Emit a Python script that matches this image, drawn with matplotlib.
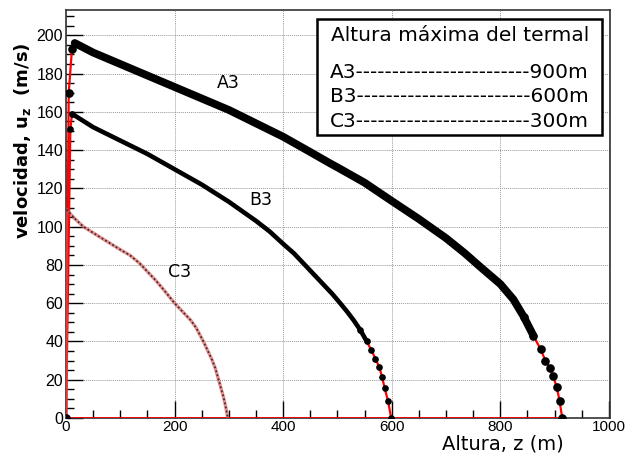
import matplotlib
matplotlib.use("Agg")
import matplotlib.pyplot as plt
from matplotlib.ticker import MultipleLocator
from matplotlib.patches import Rectangle

# thermal velocity profiles: altura z (m) vs u_z (m/s)
a3_z = [0, 5, 11, 16, 50, 100, 150, 200, 250, 300, 350, 400, 450, 487, 500, 550, 597,
        650, 700, 735, 763, 800, 824, 843, 861, 874, 883, 891, 897, 904, 909, 914]
a3_u = [0, 170, 193, 196, 191, 185, 179, 173, 167, 161, 154, 147, 139, 133, 131, 123, 114,
        104, 94, 86, 79, 70, 62, 53, 43, 36, 30, 26, 22, 16, 9, 0]

b3_z = [0, 8, 11, 50, 100, 150, 200, 250, 300, 350, 375, 400, 420, 450, 470, 490, 505,
        518, 530, 542, 554, 562, 570, 577, 582, 587, 593, 599]
b3_u = [0, 151, 159, 152, 145, 138, 130, 122, 113, 103, 97.5, 91, 86, 77, 71, 65, 60,
        55.5, 51, 46, 40, 35.6, 31, 26.5, 21.6, 15.5, 9, 0]

c3_z = [0, 1, 15, 32, 60, 80, 100, 118, 135, 150, 165, 180, 200, 215, 230, 240, 253,
        268, 275, 281, 285, 290, 294, 298]
c3_u = [0, 109, 104.5, 100, 95, 91.5, 88, 85, 81, 76.5, 72, 67, 60, 55.5, 51, 47, 40,
        31, 26, 20, 16, 11, 6, 0]

labels = ["A3", "B3", "C3"]
heights = ["900m", "600m", "300m"]

fig = plt.figure(figsize=(6.33, 4.54), dpi=100)
ax = fig.add_axes([0.1043, 0.0793, 0.8594, 0.8997])
ax.set_xlim(0, 1002)
ax.set_ylim(0, 213.5)

ax.grid(True, color="#9a9a9a", linestyle=(0, (1, 1)), linewidth=0.7)
ax.set_axisbelow(True)

# red connecting lines (graph lines)
ax.plot([0, a3_z[-1]], [0, 0], color="red", lw=2.0, zorder=3)
ax.plot(a3_z, a3_u, color="red", lw=1.6, zorder=3)
ax.plot(b3_z, b3_u, color="red", lw=1.6, zorder=3)
ax.plot(c3_z, c3_u, color="#e05050", lw=2.4, alpha=0.65, zorder=3)

# dense markers look like a thick black band, sparse ones near the ground
ax.plot(a3_z[3:25], a3_u[3:25], color="black", lw=5.6, solid_capstyle="round", zorder=4)
ax.plot(a3_z[:3], a3_u[:3], "o", color="black", ms=5.2, lw=0, zorder=4)
ax.plot(a3_z[23:], a3_u[23:], "o", color="black", ms=5.2, lw=0, zorder=4)
ax.plot(b3_z[2:21], b3_u[2:21], color="black", lw=3.3, solid_capstyle="round", zorder=4)
ax.plot(b3_z[1:3], b3_u[1:3], "o", color="black", ms=3.8, lw=0, zorder=4)
ax.plot(b3_z[19:], b3_u[19:], "o", color="black", ms=3.8, lw=0, zorder=4)
ax.plot(c3_z[1:], c3_u[1:], color="#333333", lw=1.3, linestyle=(0, (1, 1.3)), zorder=4)

ax.text(298, 175, labels[0], fontsize=12.5, ha="center", va="center", family="DejaVu Sans")
ax.text(358, 114, labels[1], fontsize=12.5, ha="center", va="center", family="DejaVu Sans")
ax.text(210, 76.5, labels[2], fontsize=12.5, ha="center", va="center", family="DejaVu Sans")

# ticks, ROOT style (inside)
ax.xaxis.set_major_locator(MultipleLocator(200))
ax.xaxis.set_minor_locator(MultipleLocator(50))
ax.yaxis.set_major_locator(MultipleLocator(20))
ax.yaxis.set_minor_locator(MultipleLocator(5))
ax.tick_params(which="major", direction="in", length=12, width=1.0, top=False, right=False,
               labelsize=11.5, pad=2)
ax.tick_params(which="minor", direction="in", length=6, width=1.0, top=False, right=False)
ax.tick_params(axis="x", labelsize=11, pad=1.5)
for lab in ax.get_xticklabels() + ax.get_yticklabels():
    lab.set_family("Liberation Sans")
for sp in ax.spines.values():
    sp.set_linewidth(1.2)
    sp.set_color("#333333")

fig.text(0.036, 0.69, r"velocidad, u$_{\mathbf{z}}$  (m/s)", rotation=90, ha="center",
         va="center", fontsize=13, fontweight="bold", family="DejaVu Sans")
fig.text(0.795, 0.002, "Altura, z (m)", ha="center", va="bottom", fontsize=14,
         family="DejaVu Sans")

# info box
ax.add_patch(Rectangle((0.4614, 0.6928), 0.5236, 0.2839, transform=ax.transAxes,
                       facecolor="white", edgecolor="black", lw=1.8, zorder=6))
ax.text(0.724, 0.9376, "Altura máxima del termal", transform=ax.transAxes, ha="center",
        va="center", fontsize=14.5, zorder=7)
for i, (lab, h) in enumerate(zip(labels, heights)):
    ax.text(0.485, 0.847 - i * 0.06, lab + "-" * 24 + h, transform=ax.transAxes,
            ha="left", va="center", fontsize=14.5, zorder=7)

fig.savefig("out.png", dpi=100)
